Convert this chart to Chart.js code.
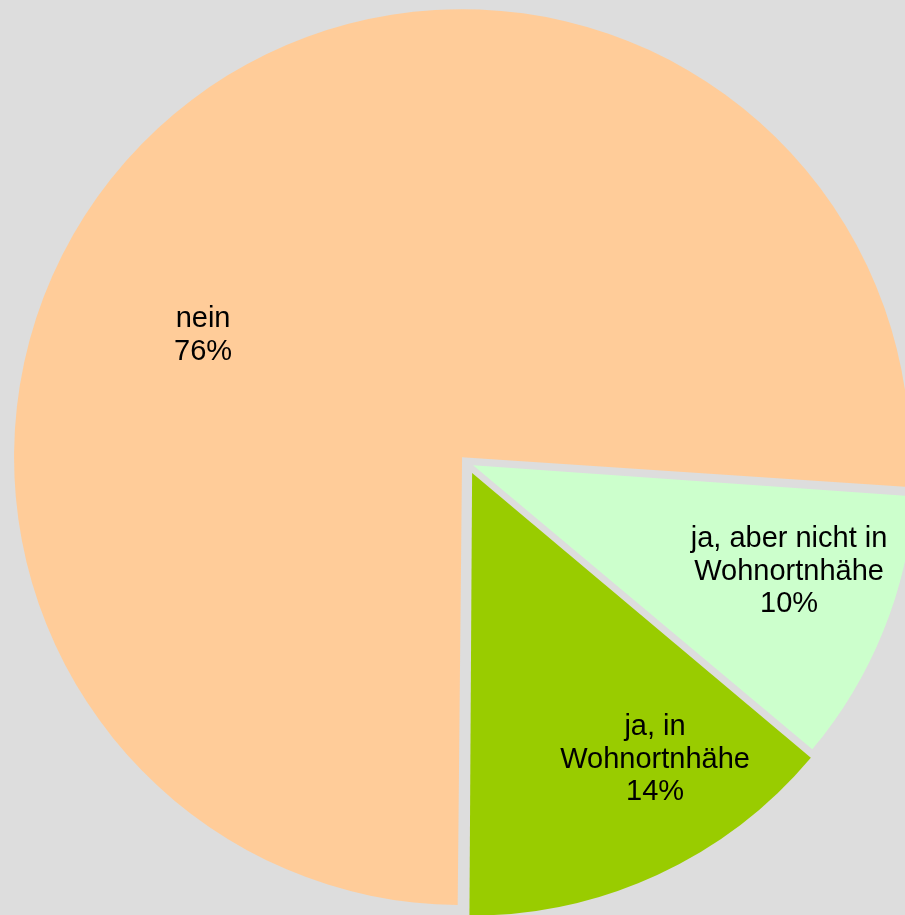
<!DOCTYPE html>
<html lang="de">
<head>
    <meta charset="UTF-8">
    <title>Wohnortnähe</title>
    <style>
        body { margin: 0; padding: 0; background-color: #dddddd; overflow: hidden; }
        #wrap { width: 905px; height: 915px; }
    </style>
</head>
<body>
    <div id="wrap"><canvas id="pieChart" width="905" height="915"></canvas></div>

    <script src="https://cdn.jsdelivr.net/npm/chart.js"></script>
    <script>
        // data (clockwise, starting just below 3 o'clock)
        const categories = [['ja, aber nicht in', 'Wohnortnhähe'], ['ja, in', 'Wohnortnhähe'], ['nein']];
        const shares = [10, 14, 76];
        const percentLabels = ['10%', '14%', '76%'];

        const sliceColors = ['#ccffcc', '#99cc00', '#ffcc99'];
        // every slice is pulled out a bit (chart.js moves an arc by offset/4)
        const sliceOffsets = [24, 44, 32];
        // label anchor: angle (deg, clockwise from 12 o'clock) and fraction of radius
        const labelAngles = [108.7, 147.7, 295.7];
        const labelRadii = [0.768, 0.794, 0.664];

        const labelPlugin = {
            id: 'sliceLabels',
            afterDatasetsDraw(chart) {
                const ctx = chart.ctx;
                const meta = chart.getDatasetMeta(0);
                ctx.save();
                ctx.font = '29px "Liberation Sans", Arial, sans-serif';
                ctx.fillStyle = '#000';
                ctx.textAlign = 'center';
                ctx.textBaseline = 'middle';
                const lh = 32.5;
                meta.data.forEach((arc, i) => {
                    const a = labelAngles[i] * Math.PI / 180;
                    const r = 442 * labelRadii[i];
                    const cx = arc.x + Math.sin(a) * r;
                    const cy = arc.y - Math.cos(a) * r;
                    const lines = categories[i].concat([percentLabels[i]]);
                    lines.forEach((t, j) => {
                        ctx.fillText(t, cx, cy + (j - (lines.length - 1) / 2) * lh);
                    });
                });
                ctx.restore();
            }
        };

        new Chart(document.getElementById('pieChart'), {
            type: 'pie',
            data: {
                labels: categories.map(c => c.join(' ')),
                datasets: [{
                    data: shares,
                    backgroundColor: sliceColors,
                    borderWidth: 0,
                    offset: sliceOffsets,
                    hoverOffset: 0
                }]
            },
            options: {
                responsive: false,
                animation: false,
                events: [],
                rotation: 94,
                radius: 440,
                layout: { padding: { left: 30, right: 0, top: 11, bottom: 0 } },
                plugins: {
                    legend: { display: false },
                    tooltip: { enabled: false }
                }
            },
            plugins: [labelPlugin]
        });
    </script>
</body>
</html>
